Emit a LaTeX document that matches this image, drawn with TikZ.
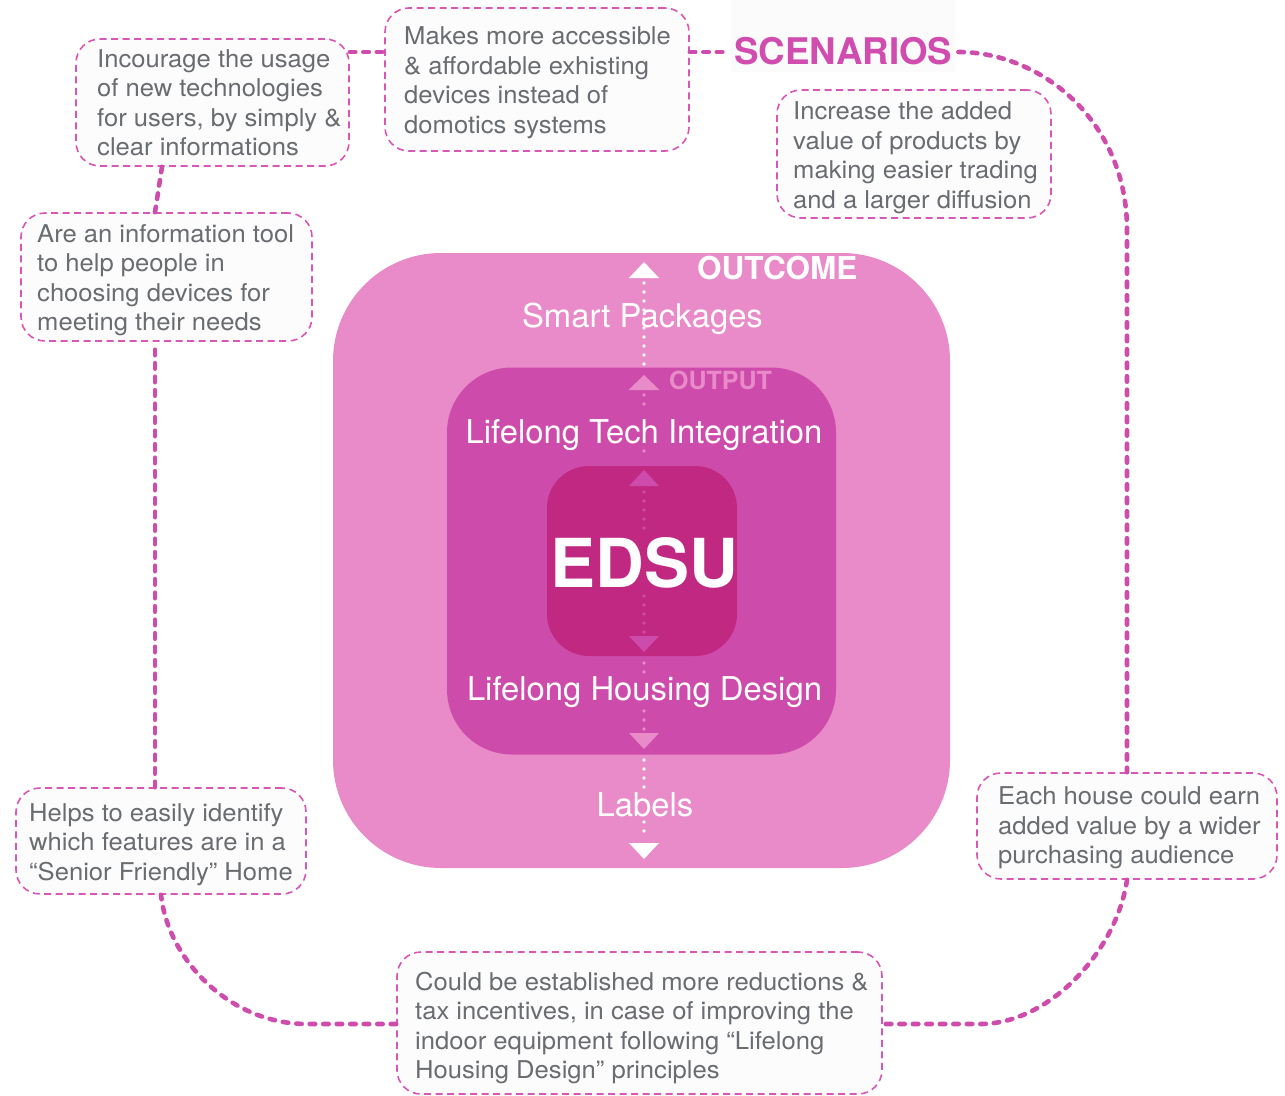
\documentclass[tikz,border=0pt]{standalone}
\usepackage{fontspec}
\setmainfont{TeX Gyre Heros}
\newfontfamily\boxfont[FakeStretch=1.045]{TeX Gyre Heros}
\definecolor{outerpink}{RGB}{233,139,200}
\definecolor{midpink}{RGB}{205,75,171}
\definecolor{innerpink}{RGB}{192,40,130}
\definecolor{connpink}{RGB}{206,76,172}
\definecolor{boxpink}{RGB}{216,86,182}
\definecolor{txtgray}{RGB}{105,108,112}
\definecolor{boxfill}{RGB}{252,252,252}
\definecolor{scenpink}{RGB}{208,76,174}
\begin{document}
\begin{tikzpicture}[x=1pt,y=-1pt,
  callbox/.style={draw=boxpink, line width=1.6pt, dash pattern=on 7pt off 4.5pt,
    rounded corners=24pt, fill=boxfill, inner sep=0pt},
  calltext/.style={text=txtgray, font=\boxfont\fontsize{24.5}{29.5}\selectfont, align=left,
    inner sep=0pt, anchor=north west},
  conn/.style={draw=connpink, line width=4.6pt, line cap=round, dash pattern=on 5.5pt off 8pt},
  whitelabel/.style={text=white, font=\fontsize{32.8}{36}\selectfont, inner sep=0pt, anchor=base},
  dotline/.style={line width=3.6pt, line cap=round, dash pattern=on 0pt off 9pt},
]
\useasboundingbox (0,0) rectangle (1285,1095);
\fill[white] (0,0) rectangle (1285,1095);

% nested rounded squares
\node[fill=outerpink, rounded corners=108pt, minimum width=617pt, minimum height=615pt, inner sep=0pt] (outcome) at (641.5,560.5) {};
\node[fill=midpink, rounded corners=65pt, minimum width=389pt, minimum height=387pt, inner sep=0pt] (output) at (641.5,561) {};
\node[fill=innerpink, rounded corners=42pt, minimum width=190pt, minimum height=190pt, inner sep=0pt] (core) at (642,561) {};

% dotted central axis
\draw[dotline, white] (644,283) -- (644,364);
\draw[dotline, outerpink] (644,395) -- (644,413);
\draw[dotline, outerpink] (644,451) -- (644,460);
\draw[dotline, midpink] (644,492) -- (644,528);
\draw[dotline, midpink] (644,596) -- (644,632);
\draw[dotline, outerpink] (644,663) -- (644,672);
\draw[dotline, outerpink] (644,711) -- (644,729);
\draw[dotline, white] (644,760) -- (644,787);
\draw[dotline, white] (644,822) -- (644,840);

% arrow heads
\fill[white] (644,262) -- (659,278) -- (629,278) -- cycle;
\fill[outerpink] (644,375) -- (659.5,390) -- (628.5,390) -- cycle;
\fill[midpink] (644,470) -- (659,486) -- (629,486) -- cycle;
\fill[midpink] (629,636) -- (659,636) -- (644,652) -- cycle;
\fill[outerpink] (629,733) -- (659,733) -- (644,749) -- cycle;
\fill[white] (629,843) -- (659,843) -- (644,859) -- cycle;

% labels of the core
\node[whitelabel] (smart) at (642.5,327) {Smart Packages};
\node[whitelabel] (tech) at (644,443.5) {Lifelong Tech Integration};
\node[whitelabel] (housing) at (644.5,700.5) {Lifelong Housing Design};
\node[whitelabel] (labels) at (645,816) {Labels};
\node[text=white, font=\fontsize{67.5}{70}\selectfont\bfseries, inner sep=0pt, anchor=base] (edsu) at (644,587) {EDSU};
\node[text=white, font=\fontsize{31.5}{34}\selectfont\bfseries, inner sep=0pt, anchor=base west] (outlbl) at (697,279) {OUTCOME};
\node[text=outerpink, font=\fontsize{25}{27}\selectfont\bfseries, inner sep=0pt, anchor=base west] (outplbl) at (669,389) {OUTPUT};

% SCENARIOS title
\fill[black!1.5] (731,0) rectangle (955,72);
\node[text=scenpink, font=\fontsize{36.7}{40}\selectfont\bfseries, inner sep=0pt, anchor=base west] (scen) at (734,64) {SCENARIOS};

% callout boxes
\node[callbox, minimum width=273pt, minimum height=127pt] (b1) at (212.5,102.5) {};
\node[callbox, minimum width=304pt, minimum height=143pt] (b2) at (537,79.5) {};
\node[callbox, minimum width=274pt, minimum height=128pt] (b3) at (914,154) {};
\node[callbox, minimum width=291pt, minimum height=128pt] (b4) at (166.5,277) {};
\node[callbox, minimum width=290pt, minimum height=106pt] (b5) at (161,841) {};
\node[callbox, minimum width=300pt, minimum height=106pt] (b6) at (1127,826) {};
\node[callbox, minimum width=485pt, minimum height=142pt] (b7) at (639.5,1023) {};

\node[calltext] (t1) at (97,49.3) {Incourage the usage\\of new technologies\\for users, by simply \&\\clear informations};
\node[calltext] (t2) at (404,26.7) {Makes more accessible\\\& affordable exhisting\\devices instead of\\domotics systems};
\node[calltext] (t3) at (793,101.7) {Increase the added\\value of products by\\making easier trading\\and a larger diffusion};
\node[calltext] (t4) at (37,224) {Are an information tool\\to help people in\\choosing devices for\\meeting their needs};
\node[calltext] (t5) at (29,803.3) {Helps to easily identify\\which features are in a\\“Senior Friendly” Home};
\node[calltext] (t6) at (998,786.7) {Each house could earn\\added value by a wider\\purchasing audience};
\node[calltext] (t7) at (415,971.7) {Could be established more reductions \&\\tax incentives, in case of improving the\\indoor equipment following “Lifelong\\Housing Design” principles};

% connectors
\coordinate (ytop) at (0,52);
\coordinate (xleft) at (155,0);
\draw[conn] (b1.east |- ytop) -- (b2.west |- ytop);
\draw[conn] (b2.east |- ytop) -- ([xshift=-6pt]scen.west |- ytop);
\draw[conn] ([xshift=6pt]scen.east |- ytop) .. controls (1040,52) and (1127,120) .. (1127,230) -- (b6.north);
\draw[conn] (b6.south) .. controls (1117,950) and (1050,1024) .. (980,1024) -- (b7.east |- 0,1024);
\draw[conn] (b7.west |- 0,1024) -- (307,1024) .. controls (230,1024) and (168,960) .. (b5.south);
\draw[conn] (b5.north -| xleft) -- (b4.south -| xleft);
\draw[conn] (b4.north -| xleft) -- (b1.south -| 162,0);
\end{tikzpicture}
\end{document}
